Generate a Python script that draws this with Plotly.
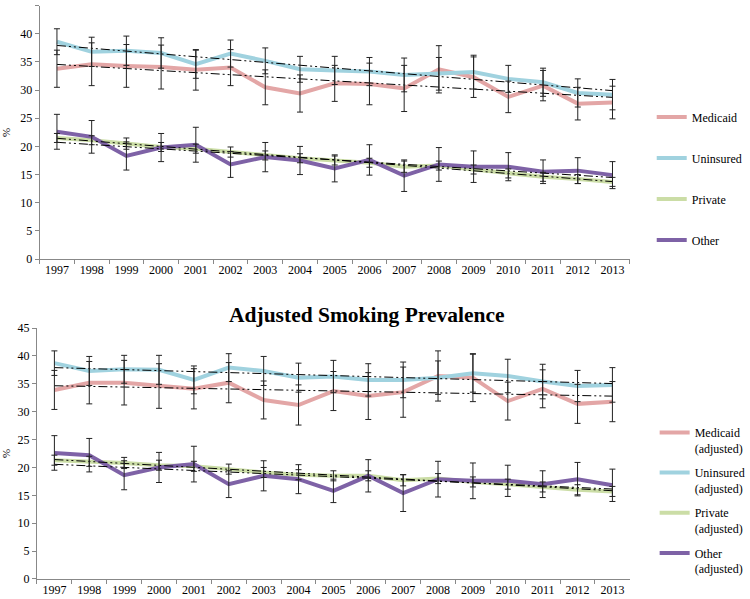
import numpy as np
import plotly.graph_objects as go

years = [str(y) for y in range(1997, 2014)]

# Unadjusted smoking prevalence (%) and 95% CI half-widths
medicaid = [33.8, 34.6, 34.3, 34.1, 33.6, 34.0, 30.5, 29.4, 31.2, 31.1, 30.3, 33.7, 32.3, 28.8, 30.8, 27.6, 27.8]
medicaid_ci = [3.3, 3.8, 3.8, 3.9, 3.6, 3.2, 3.1, 3.3, 3.2, 3.7, 4.1, 4.2, 3.6, 2.8, 2.7, 2.9, 2.9]
uninsured = [38.6, 36.8, 37.0, 36.6, 34.6, 36.5, 35.2, 33.7, 33.5, 33.3, 32.7, 32.9, 33.2, 32.0, 31.4, 29.5, 29.2]
uninsured_ci = [2.3, 2.6, 2.6, 2.7, 2.5, 2.4, 2.3, 2.3, 2.5, 2.5, 3.0, 2.9, 3.0, 2.4, 2.5, 2.5, 2.7]
private = [21.5, 21.1, 20.5, 19.9, 19.6, 19.0, 18.4, 17.9, 17.5, 17.1, 16.4, 16.6, 15.9, 15.2, 14.6, 14.2, 13.7]
private_ci = [0.8, 0.8, 1.0, 0.8, 0.8, 0.9, 0.8, 0.8, 0.8, 0.8, 1.0, 0.8, 0.8, 0.8, 0.8, 0.8, 0.8]
other = [22.6, 21.7, 18.3, 19.8, 20.3, 16.8, 18.1, 17.5, 16.1, 17.6, 14.8, 16.8, 16.4, 16.4, 15.5, 15.7, 14.9]
other_ci = [3.1, 2.9, 2.5, 2.5, 3.1, 2.3, 2.6, 2.5, 2.4, 2.7, 2.8, 3.0, 2.8, 2.5, 2.1, 2.3, 2.4]

# Adjusted smoking prevalence (%)
medicaid_adj = [33.9, 35.2, 35.2, 34.6, 34.1, 35.2, 32.1, 31.2, 33.7, 32.8, 33.5, 36.4, 36.1, 31.9, 34.1, 31.4, 31.8]
medicaid_adj_ci = [3.5, 3.8, 4.0, 4.0, 3.6, 3.6, 3.4, 3.6, 3.5, 4.2, 4.5, 4.5, 4.3, 3.4, 3.4, 3.5, 3.6]
uninsured_adj = [38.7, 37.3, 37.6, 37.5, 35.7, 37.9, 37.3, 36.1, 36.3, 35.7, 35.7, 36.1, 36.9, 36.4, 35.4, 34.6, 34.8]
uninsured_adj_ci = [2.2, 2.6, 2.5, 2.6, 2.5, 2.5, 2.6, 2.6, 2.9, 2.9, 3.2, 3.0, 3.4, 3.0, 3.1, 2.8, 3.1]
private_adj = [21.3, 21.1, 20.8, 20.4, 20.2, 19.7, 19.1, 18.7, 18.5, 18.5, 17.7, 18.0, 17.4, 17.0, 16.5, 16.0, 15.7]
private_adj_ci = [0.9, 0.9, 1.0, 0.9, 0.9, 0.9, 0.9, 0.9, 0.9, 0.9, 1.0, 0.9, 0.9, 0.9, 0.9, 0.9, 0.9]
other_adj = [22.6, 22.2, 18.6, 20.0, 20.6, 17.0, 18.5, 17.9, 15.8, 18.5, 15.4, 17.9, 17.6, 17.6, 17.0, 17.9, 16.8]
other_adj_ci = [3.1, 3.0, 2.6, 2.7, 3.2, 2.4, 2.7, 2.6, 2.1, 2.9, 3.3, 3.2, 3.2, 2.8, 2.4, 3.0, 2.9]

colors = {'Medicaid': '#E3A6A6', 'Uninsured': '#A0D2DF', 'Private': '#CBDDA6', 'Other': '#7E62A6'}
FONT = 'Liberation Serif, Times New Roman, serif'

top = [('Medicaid', medicaid, medicaid_ci), ('Uninsured', uninsured, uninsured_ci),
       ('Private', private, private_ci), ('Other', other, other_ci)]
bottom = [('Medicaid', medicaid_adj, medicaid_adj_ci), ('Uninsured', uninsured_adj, uninsured_adj_ci),
          ('Private', private_adj, private_adj_ci), ('Other', other_adj, other_adj_ci)]

fig = go.Figure()


def add_panel(series, xa, ya, legend, suffix):
    # coloured lines
    for name, vals, ci in series:
        fig.add_trace(go.Scatter(x=years, y=vals, mode='lines', name=name + suffix,
                                 legendgroup=legend + name, legend=legend,
                                 line=dict(color=colors[name], width=4),
                                 xaxis=xa, yaxis=ya))
    # linear trendlines (dash-dot-dot)
    idx = np.arange(len(years))
    for name, vals, ci in series:
        k, b = np.polyfit(idx, vals, 1)
        fig.add_trace(go.Scatter(x=years, y=k * idx + b, mode='lines', showlegend=False,
                                 line=dict(color='black', width=1, dash='9px,3px,2px,3px,2px,3px'),
                                 hoverinfo='skip', xaxis=xa, yaxis=ya))
    # error bars on top
    for name, vals, ci in series:
        fig.add_trace(go.Scatter(x=years, y=vals, mode='markers', showlegend=False,
                                 marker=dict(size=1, color='rgba(0,0,0,0)'),
                                 error_y=dict(type='data', array=ci, color='#222222', thickness=1, width=3),
                                 xaxis=xa, yaxis=ya))


add_panel(top, 'x', 'y', 'legend', '')
add_panel(bottom, 'x2', 'y2', 'legend2', '<br>(adjusted)')

xcommon = dict(type='category', range=[-0.5, 16.5], tickson='boundaries', ticks='outside', ticklen=4,
               tickcolor='#888888', showline=True, linecolor='#888888', linewidth=1, showgrid=False,
               tickfont=dict(family=FONT, size=12, color='black'), automargin=False)
ycommon = dict(range=[0, 45], dtick=5, ticks='outside', ticklen=4, tickcolor='#888888', showline=True,
               linecolor='#888888', linewidth=1, showgrid=False, zeroline=False,
               tickfont=dict(family=FONT, size=12, color='black'), automargin=False,
               title=dict(text='%', font=dict(family=FONT, size=11, color='black'), standoff=8))

fig.update_layout(
    width=750, height=599, margin=dict(l=0, r=0, t=0, b=0),
    paper_bgcolor='white', plot_bgcolor='white',
    xaxis=dict(domain=[0.0543, 0.864], anchor='y', **xcommon),
    yaxis=dict(domain=[0.5676, 0.9905], anchor='x', **ycommon),
    xaxis2=dict(domain=[0.0507, 0.864], anchor='y2', **xcommon),
    yaxis2=dict(domain=[0.0334, 0.4524], anchor='x2', **ycommon),
    legend=dict(x=0.894, y=0.829, xanchor='left', yanchor='top', tracegroupgap=22, itemwidth=30,
                font=dict(family=FONT, size=12, color='black'), bgcolor='rgba(0,0,0,0)'),
    legend2=dict(x=0.898, y=0.302, xanchor='left', yanchor='top', tracegroupgap=6, itemwidth=30, valign='top',
                 font=dict(family=FONT, size=12, color='black'), bgcolor='rgba(0,0,0,0)'),
    showlegend=True,
    annotations=[dict(text='<b>Adjusted Smoking Prevalence</b>', x=378 / 750, y=1 - 315 / 599,
                      xref='paper', yref='paper', showarrow=False, xanchor='center',
                      font=dict(family=FONT, size=21.5, color='black'))],
)

fig.write_html('out.html', config={'displayModeBar': False},
               post_script="document.body.style.margin='0';")
